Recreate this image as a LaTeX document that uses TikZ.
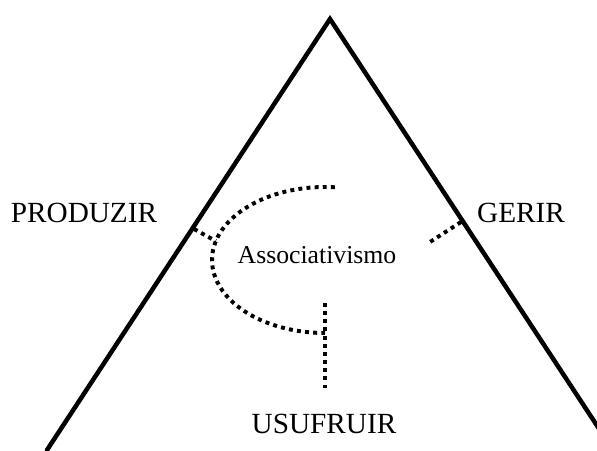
\documentclass[tikz,border=0pt]{standalone}
\usepackage{fontspec}
\setmainfont{Liberation Serif}
\usepackage{tikz}
\usetikzlibrary{
    calc
}

\begin{document}
\begin{tikzpicture}[
        side/.style={
            line width=3.2pt,
            line cap=round,
            line join=miter
        },
        dotline/.style={
            line width=2.8pt,
            dash pattern=on 2.8pt off 3pt
        },
        label/.style={
            anchor=base,
            inner sep=0pt,
            font=\fontsize{20.8}{24}\selectfont
        },
        core/.style={
            anchor=base,
            inner sep=0pt,
            font=\fontsize{18.3}{22}\selectfont
        }
    ]

    \useasboundingbox (0,0) rectangle (14.925,11.25);
    \clip (0,0) rectangle (14.925,11.25);

    \coordinate (apex) at (8.25,10.775);
    \coordinate (baseleft) at (1.175,0);
    \coordinate (baseright) at (15.325,0);

    \draw[side] (baseleft) -- (apex) -- (baseright);

    \node[label] (produzir) at (2.1,5.7) {PRODUZIR};
    \node[label] (gerir) at (13.025,5.7) {GERIR};
    \node[label] (usufruir) at (8.1,0.425) {USUFRUIR};
    \node[core] (assoc) at (7.925,4.675) {Associativismo};

    % dotted links
    \coordinate (arccentre) at (8.125,4.75);
    \coordinate (arcstart) at ($(arccentre)+(85:2.825 and 1.825)$);
    \coordinate (arcleft) at ($(arccentre)+(165:2.825 and 1.825)$);
    \coordinate (arcend) at ($(arccentre)+(270:2.825 and 1.825)$);

    \draw[dotline] (arcstart) arc[start angle=85, end angle=270,
        x radius=2.825, y radius=1.825];

    \coordinate (leftfoot) at (4.85,5.525);
    \draw[dotline] (leftfoot) -- (arcleft);

    \coordinate (stemtop) at (8.125,3.675);
    \coordinate (stembottom) at (8.125,1.5);
    \draw[dotline] (stemtop) -- (stembottom);

    \coordinate (rightfoot) at (11.525,5.7);
    \coordinate (rightend) at (10.75,5.2);
    \draw[dotline] (rightfoot) -- (rightend);

\end{tikzpicture}
\end{document}
